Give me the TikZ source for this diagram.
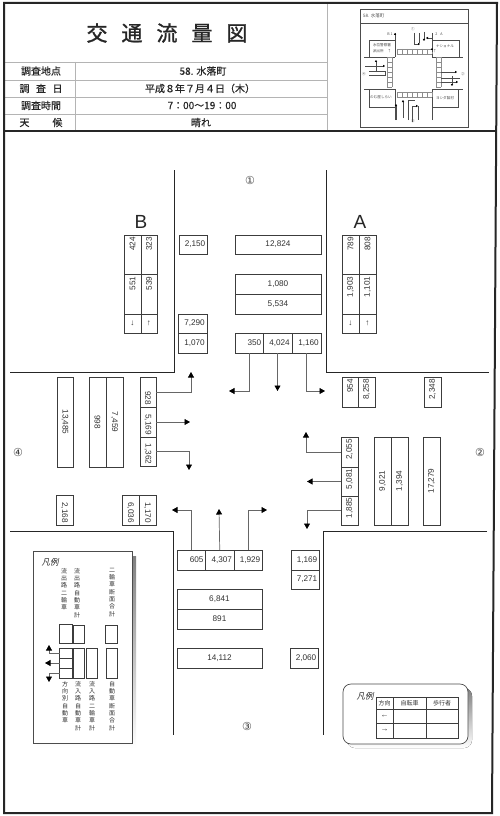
\documentclass[tikz,border=0pt]{standalone}
\usepackage{fontspec}
\setmainfont{Liberation Sans}
\newfontfamily\cjk{Noto Sans CJK JP}
\newfontfamily\cjkbold[FakeBold=1.2]{Noto Sans CJK JP}
\newfontfamily\cjkmid[FakeBold=0.4]{Noto Sans CJK JP}
\newfontfamily\cjkslant[FakeSlant=0.2]{Noto Sans CJK JP}
\newfontfamily\dejavu{DejaVu Sans}
\usetikzlibrary{arrows.meta}
\definecolor{ln}{HTML}{3C3C3C}
\definecolor{gl}{HTML}{B4B4B4}
\definecolor{shade}{HTML}{C8C8C8}
\tikzset{
  cell/.style={draw=ln,line width=0.8pt,inner sep=0pt,outer sep=0pt,rectangle},
  lab/.style={inner sep=0pt,font=\fontsize{8.2}{9}\selectfont,text=black!80},
  ra/.style={anchor=east,xshift=12.5pt},
  rd/.style={yshift=-13pt,rotate=-90,anchor=east},
  ru/.style={yshift=13pt,rotate=90,anchor=east},
  rutall/.style={yshift=17.5pt,rotate=90,anchor=east},
  vu/.style={rotate=90},
  vd/.style={rotate=-90},
  road/.style={draw=black!85,line width=0.8pt},
  arr/.style={draw=black!60,line width=0.7pt,-{Triangle[width=6pt,length=5.5pt,color=black]}},
  vt/.style={anchor=north,align=center,inner sep=0pt,font=\cjk\fontsize{6}{7.3}\selectfont,text=black!80},
  hdl/.style={inner sep=0pt,font=\cjkmid\fontsize{10}{12}\selectfont,text=black!85},
  circ/.style={inner sep=0pt,font=\dejavu\fontsize{11}{12}\selectfont,text=black!75},
  mini/.style={inner sep=0pt,font=\cjk\fontsize{3.6}{4.4}\selectfont,text=black!70},
  mln/.style={draw=black!70,line width=0.5pt},
  mxw/.style={draw=black!45,line width=0.4pt},
  mar/.style={draw=black!70,line width=0.4pt,-{Triangle[width=2.2pt,length=2pt,color=black]}},
}
\newcommand{\bx}[7][]{%
  \pgfmathsetmacro\bxx{(#3+#5)/2}\pgfmathsetmacro\bxy{(#4+#6)/2}%
  \pgfmathsetmacro\bxw{#5-#3}\pgfmathsetmacro\bxh{#6-#4}%
  \node[cell,minimum width=\bxw pt,minimum height=\bxh pt] (#2) at (\bxx,\bxy) {};%
  \node[lab,#1] (#2-t) at (#2.center) {#7};%
}
\begin{document}
\begin{tikzpicture}[x=1pt,y=-1pt]
\useasboundingbox (0,0) rectangle (500,816);
\fill[white] (0,0) rectangle (500,816);

% header grid
\draw[gl,line width=0.5pt] (4,62)--(327,62) (4,80)--(327,80) (4,97)--(327,97) (4,114)--(327,114) (75,62)--(75,131) (327,3)--(327,131);
\draw[black!85,line width=2pt] (4,3)--(497,3)--(492,813)--(4,813)--cycle;
\draw[black!85,line width=2pt] (4,131)--(496.5,131);

\node[inner sep=0pt,font=\cjkbold\fontsize{21}{24}\selectfont,text=black!85] (title) at (167,33) {交\hspace{14pt}通\hspace{14pt}流\hspace{14pt}量\hspace{14pt}図};
\node[hdl] (l1) at (41,71) {調査地点};
\node[hdl] (l2) at (41,88.5) {\makebox[43pt][s]{調\hfill 査\hfill 日}};
\node[hdl] (l3) at (41,105.5) {調査時間};
\node[hdl] (l4) at (41,122.5) {\makebox[43pt][s]{天\hfill 候}};
\node[hdl] (v1) at (203,71) {58. 水落町};
\node[hdl] (v2) at (200,88.5) {平成８年７月４日（木）};
\node[hdl] (v3) at (202,105.5) {7：00～19：00};
\node[hdl] (v4) at (201,122.5) {晴れ};

% mini map
\draw[mln,line width=0.7pt] (360,9) rectangle (468,127);
\draw[mln] (360,23)--(468,23);
\node[mini,anchor=west,font=\cjk\fontsize{4.5}{5}\selectfont] (m0) at (363,16) {58. 水落町};
\draw[mln] (369,57)--(369,40)--(395,40) (395,33)--(395,57) (364,57)--(395,57);
\draw[mln] (459,57)--(459,40)--(432,40) (432,33)--(432,57)--(463,57);
\draw[mln] (369,89)--(369,107)--(395,107) (395,120)--(395,89)--(364,89);
\draw[mln] (458,89)--(458,107)--(432,107) (432,120)--(432,89)--(463,89);
\foreach \i in {397,402,...,432}{\draw[mxw] (\i,49)--(\i,54) (\i,92)--(\i,97);}
\draw[mxw] (397,49)--(432,49) (397,54)--(432,54) (397,92)--(432,92) (397,97)--(432,97);
\foreach \i in {57,62,...,87}{\draw[mxw] (387,\i)--(392,\i) (436,\i)--(441,\i);}
\draw[mxw] (387,57)--(387,87) (392,57)--(392,87) (436,57)--(436,87) (441,57)--(441,87);
\node[mini] (m1) at (382,45) {水位警察署};
\node[mini] (m2) at (382,51) {派出所\hspace{4pt}↑};
\node[mini] (m3) at (445,46) {ナショナル};
\node[mini] (m4) at (435,51) {↑};
\node[mini] (m5) at (381,97) {のむ屋しらい};
\node[mini] (m6) at (445,98) {ヨシダ製材};
\node[mini] (m7) at (390,34) {B 1};
\node[mini] (m8) at (439,34) {2\hspace{3pt}A};
\node[mini] (m9) at (413,29) {①};
\node[mini] (m10) at (463,74) {②};
\node[mini] (m11) at (413,121) {③};
\node[mini] (m12) at (364,74) {④};
\draw[mar] (414,33)--(414,44)--(420,44);
\draw[mar] (424,32)--(424,41);
\draw[mln] (419,33)--(419,43);
\draw[mar] (432,38)--(426,38);
\draw[mar] (395,38)--(395,33);
\draw[mar] (432,52)--(432,48);
\draw[mar] (376,72)--(376,60);
\draw[mar] (365,66)--(385,66);
\draw[mln] (369,71)--(385,71)--(385,75)--(369,75);
\draw[mar] (441,72)--(457,72);
\draw[mln] (441,78)--(460,78);
\draw[mar] (441,82)--(458,82);
\draw[mar] (452,76)--(452,86);
\draw[mar] (396,120)--(396,104);
\draw[mar] (403,118)--(403,100);
\draw[mln] (408,120)--(408,100)--(415,100);
\draw[mar] (412,122)--(412,106)--(418,106);
\draw[mln] (418,106)--(418,120);

% roads
\draw[road] (174,170)--(174,372)--(10,372);
\draw[road] (326,170)--(326,372)--(489,372);
\draw[road] (10,531)--(173,531)--(173,735);
\draw[road] (487,531)--(323,531)--(323,735);

% circled numbers
\node[circ] (n1) at (250,180) {①};
\node[circ] (n2) at (480,452) {②};
\node[circ] (n3) at (247,726) {③};
\node[circ] (n4) at (18,452) {④};

% top group
\bx[ra]{t2150}{179}{235}{207}{254}{2,150}
\bx{t12824}{235}{235}{321}{254}{12,824}
\bx{t1080}{235}{274}{321}{294}{1,080}
\bx{t5534}{235}{294}{321}{314}{5,534}
\bx[ra]{t7290}{178}{314}{207}{333}{7,290}
\bx[ra]{t1070}{178}{333}{207}{353}{1,070}
\bx[ra]{t350}{235}{333}{263}{353}{350}
\bx[ra]{t4024}{263}{333}{292}{353}{4,024}
\bx[ra]{t1160}{292}{333}{321}{353}{1,160}

% block B
\node[inner sep=0pt,font=\fontsize{19}{20}\selectfont,text=black!85] (B) at (141,222) {B};
\bx[rutall]{b424}{124}{235}{141}{274}{424}
\bx[rutall]{b323}{141}{235}{157}{274}{323}
\bx[rutall]{b551}{124}{274}{141}{314}{551}
\bx[rutall]{b539}{141}{274}{157}{314}{539}
\bx{bd}{124}{314}{141}{333}{↓}
\bx{bu}{141}{314}{157}{333}{↑}

% block A
\node[inner sep=0pt,font=\fontsize{19}{20}\selectfont,text=black!85] (A) at (360,222) {A};
\bx[rutall]{a789}{342}{235}{359}{274}{789}
\bx[rutall]{a808}{359}{235}{376}{274}{808}
\bx[rutall]{a1903}{342}{274}{359}{314}{1,903}
\bx[rutall]{a1101}{359}{274}{376}{314}{1,101}
\bx{ad}{342}{314}{359}{333}{↓}
\bx{au}{359}{314}{376}{333}{↑}

% left group
\bx[vd]{l13485}{57}{377}{73}{467}{13,485}
\bx[vd]{l998}{89}{377}{106}{467}{998}
\bx[vd]{l7459}{106}{377}{123}{467}{7,459}
\bx[rd]{l928}{140}{377}{156}{407}{928}
\bx[rd]{l5169}{140}{407}{156}{437}{5,169}
\bx[rd]{l1362}{140}{437}{156}{466}{1,362}
\bx[rd]{l2168}{56}{495}{73}{525}{2,168}
\bx[rd]{l6036}{122}{495}{139}{525}{6,036}
\bx[rd]{l1170}{139}{495}{156}{525}{1,170}

% right group
\bx[ru]{r954}{342}{377}{358}{407}{954}
\bx[ru]{r8258}{358}{377}{375}{407}{8,258}
\bx[ru]{r2348}{424}{377}{441}{407}{2,348}
\bx[ru]{r2055}{341}{437}{358}{467}{2,055}
\bx[ru]{r5081}{341}{467}{358}{496}{5,081}
\bx[ru]{r1885}{341}{496}{358}{525}{1,885}
\bx[vu]{r9021}{374}{437}{391}{525}{9,021}
\bx[vu]{r1394}{391}{437}{408}{525}{1,394}
\bx[vu]{r17279}{423}{437}{440}{525}{17,279}

% bottom group
\bx[ra]{s605}{177}{550}{205.5}{570}{605}
\bx[ra]{s4307}{205.5}{550}{234}{570}{4,307}
\bx[ra]{s1929}{234}{550}{262}{570}{1,929}
\bx[ra]{s1169}{291}{550}{319}{570}{1,169}
\bx[ra]{s7271}{291}{570}{319}{589}{7,271}
\bx{s6841}{177}{589}{262}{609}{6,841}
\bx{s891}{177}{609}{262}{629}{891}
\bx{s14112}{177}{648}{262}{668}{14,112}
\bx[ra]{s2060}{290}{648}{318}{668}{2,060}

% arrow ends
\coordinate (e350) at (229,391);
\coordinate (e4024) at (277.5,391);
\coordinate (e1160) at (325,391);
\coordinate (e928) at (191,372);
\coordinate (e5169) at (190,422);
\coordinate (e1362) at (189,470);
\coordinate (e2055) at (306,432);
\coordinate (e5081) at (307,481.5);
\coordinate (e1885) at (307,529);
\coordinate (e605) at (172,510);
\coordinate (e4307) at (219,509);
\coordinate (e1929) at (267,510);
\draw[arr] (t350.south) |- (e350);
\draw[arr] (t4024.south) -- (e4024);
\draw[arr] (t1160.south) |- (e1160);
\draw[arr] (l928.east) -| (e928);
\draw[arr] (l5169.east) -- (e5169);
\draw[arr] (l1362.east) -| (e1362);
\draw[arr] (r2055.west) -| (e2055);
\draw[arr] (r5081.west) -- (e5081);
\draw[arr] (r1885.west) -| (e1885);
\draw[arr] (s605.north) |- (e605);
\draw[arr] (s4307.north) -- (e4307);
\draw[arr] (s1929.north) |- (e1929);

% legend 1
\fill[shade] (37,556) rectangle (136,748);
\draw[fill=white,draw=black!70,line width=0.7pt] (33,551) rectangle (132,743);
\node[inner sep=0pt,font=\cjkslant\fontsize{8.5}{10}\selectfont,text=black!85] (lg1) at (50,562) {凡例};
\node[vt] (k1) at (64,568) {流\\出\\路\\二\\輪\\車};
\node[vt] (k2) at (77,568) {流\\出\\路\\自\\動\\車\\計};
\node[vt] (k3) at (112,568) {二\\輪\\車\\断\\面\\合\\計};
\node[vt] (k4) at (65,681) {方\\向\\別\\自\\動\\車};
\node[vt] (k5) at (78,681) {流\\入\\路\\自\\動\\車\\計};
\node[vt] (k6) at (92,681) {流\\入\\路\\二\\輪\\車\\計};
\node[vt] (k7) at (112,681) {自\\動\\車\\断\\面\\合\\計};
\bx{q1}{59}{624}{72}{643}{}
\bx{q2}{73}{625}{84}{643}{}
\bx{q3}{105}{625}{117}{643}{}
\bx{q4}{59.5}{648}{72}{658}{}
\bx{q5}{59.5}{658}{72}{668}{}
\bx{q6}{59.5}{668}{72}{678}{}
\bx{q7}{73}{648}{84}{678}{}
\bx{q8}{86}{648}{97}{678}{}
\bx{q9}{106}{648}{117}{678}{}
\coordinate (eq4) at (49,645);
\coordinate (eq5) at (45,663);
\coordinate (eq6) at (49,682);
\draw[arr] (q4.west) -| (eq4);
\draw[arr] (q5.west) -- (eq5);
\draw[arr] (q6.west) -| (eq6);

% legend 2
\fill[shade,rounded corners=8pt] (347,688) rectangle (472,748);
\draw[fill=white,draw=black!70,line width=0.7pt,rounded corners=8pt] (343,684) rectangle (468,744);
\node[inner sep=0pt,font=\cjkslant\fontsize{8.5}{10}\selectfont,text=black!85] (lg2) at (365,696) {凡例};
\tikzset{lab/.append style={font=\cjk\fontsize{6}{7}\selectfont}}
\bx{h1}{376}{697}{393}{709}{方向}
\bx{h2}{393}{697}{426}{709}{自転車}
\bx{h3}{426}{697}{458}{709}{歩行者}
\tikzset{lab/.append style={font=\fontsize{8}{9}\selectfont}}
\bx{c1}{376}{709}{393}{723}{←}
\bx{c2}{393}{709}{426}{723}{}
\bx{c3}{426}{709}{458}{723}{}
\bx{c4}{376}{723}{393}{738}{→}
\bx{c5}{393}{723}{426}{738}{}
\bx{c6}{426}{723}{458}{738}{}
\end{tikzpicture}
\end{document}
